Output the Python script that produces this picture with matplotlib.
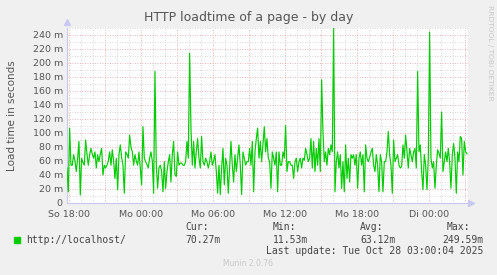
import matplotlib
matplotlib.use("Agg")
import matplotlib.pyplot as plt
import matplotlib.dates as mdates
from matplotlib.ticker import FixedLocator, MultipleLocator, FuncFormatter
import pandas as pd

# load time in milliseconds, one sample every 400 s
load_ms = [
    # So 17:48 .. Mo 02:28
    50, 16, 107, 54, 54, 69, 60, 45, 64, 88, 11.53, 64, 58, 54, 90, 70, 54, 69, 78, 70,
    64, 73, 50, 69, 59, 70, 78, 40, 54, 50, 54, 60, 73, 54, 76, 60, 35, 64, 19, 69,
    83, 65, 54, 14, 73, 70, 64, 97, 80, 73, 54, 69, 60, 54, 73, 50, 26, 109, 64, 59,
    55, 50, 64, 73, 60, 14, 188, 54, 21, 50, 54, 45, 16, 59, 21, 45, 59, 69,
    # Mo 02:35 .. Mo 10:48
    30, 69, 88, 40, 38, 73, 54, 57, 57, 54, 54, 59, 88, 64, 214, 107, 54, 88, 50, 73,
    92, 64, 50, 95, 59, 54, 64, 59, 50, 59, 73, 54, 60, 69, 45, 14, 54, 12, 50, 78,
    26, 64, 54, 14, 50, 88, 54, 30, 69, 45, 64, 83, 54, 12, 73, 64, 54, 59, 59, 78,
    54, 88, 16, 73, 92, 107, 64, 88, 59, 83, 109, 73, 92, 64, 59,
    # Mo 10:55 .. Mo 19:08
    21, 73, 64, 54, 73, 16, 73, 54, 54, 73, 64, 111, 45, 59, 59, 54, 54, 35, 59, 64,
    45, 59, 64, 50, 64, 61, 78, 69, 59, 64, 92, 50, 88, 45, 78, 54, 92, 45, 176, 102,
    59, 73, 54, 78, 69, 83, 73, 249.59, 16, 59, 73, 50, 69, 21, 59, 16, 83, 35, 64, 30,
    69, 64, 69, 54, 69, 21, 64, 73, 54, 69, 16, 83, 64, 59, 65,
    # Mo 19:15 .. Di 03:13
    73, 78, 54, 45, 69, 54, 16, 69, 59, 16, 59, 59, 73, 102, 69, 54, 14, 90, 59, 64,
    69, 54, 50, 52, 83, 64, 97, 73, 50, 78, 69, 59, 73, 78, 50, 188, 73, 83, 45, 19,
    69, 54, 19, 64, 244, 64, 50, 59, 21, 54, 76, 71, 64, 130, 45, 59, 73, 59, 78, 59,
    21, 69, 85, 64, 14, 73, 59, 95, 92, 40, 88, 73, 70.27,
]
sample_start = "2025-10-26 17:48:20"
sample_step = "400s"
view_start = pd.Timestamp("2025-10-26 17:48:30")
view_end = pd.Timestamp("2025-10-28 03:13:30")

y_ticks = list(range(0, 241, 20))
series_label = "http://localhost/"
cur_txt, min_txt, avg_txt, max_txt = "70.27m", "11.53m", "63.12m", "249.59m"
last_update = "Last update: Tue Oct 28 03:00:04 2025"
day_names = ["Mo", "Di", "Mi", "Do", "Fr", "Sa", "So"]

times = pd.date_range(sample_start, periods=len(load_ms), freq=sample_step)

W, H = 497, 275
fig = plt.figure(figsize=(W / 100, H / 100), dpi=100, facecolor="#f0f0f0")
ax = fig.add_axes([67 / W, 1 - 203 / H, 401 / W, 175 / H])
ax.set_facecolor("white")

ax.plot(times, load_ms, color="#00cc00", lw=0.85, zorder=3)

ax.set_xlim(view_start, view_end)
ax.set_ylim(0, 250)

# grid: red dotted major, grey dotted minor
ax.xaxis.set_major_locator(mdates.HourLocator(byhour=range(0, 24, 3)))
ax.xaxis.set_minor_locator(mdates.HourLocator())


def fmt_x(v, pos):
    d = mdates.num2date(v)
    if d.hour % 6:
        return ""
    return f"{day_names[d.weekday()]} {d:%H:%M}"


ax.xaxis.set_major_formatter(FuncFormatter(fmt_x))
ax.yaxis.set_major_locator(FixedLocator(y_ticks))
ax.yaxis.set_minor_locator(MultipleLocator(10))
ax.yaxis.set_major_formatter(FuncFormatter(lambda v, p: "0" if v == 0 else f"{v:.0f} m"))

ax.grid(which="major", color="#e89a9a", linestyle=(0, (1, 2)), lw=0.6, zorder=1)
ax.grid(which="minor", color="#cccccc", linestyle=(0, (1, 2)), lw=0.6, zorder=1)
ax.set_axisbelow(True)

ax.tick_params(which="both", length=0, labelsize=6.8, labelcolor="#555555", pad=3)
ax.tick_params(axis="x", pad=5)
for s in ["top", "right"]:
    ax.spines[s].set_visible(False)
for s in ["left", "bottom"]:
    ax.spines[s].set_color("#c8c8f0")
    ax.spines[s].set_linewidth(0.8)
ax.plot([0], [1.035], marker="^", ms=4, color="#c8c8f0", transform=ax.transAxes, clip_on=False)
ax.plot([1.008], [0], marker=">", ms=4, color="#c8c8f0", transform=ax.transAxes, clip_on=False)

ax.set_ylabel("Load time in seconds", fontsize=7.5, color="#555555", labelpad=11)

fig.text(248.5 / W, 1 - 18 / H, "HTTP loadtime of a page - by day", ha="center",
         va="center", fontsize=9, color="#555555")
fig.text(490 / W, 1 - 5 / H, "RRDTOOL / TOBI OETIKER", rotation=270, ha="center",
         va="top", fontsize=5.4, color="#c8c8c8")

mono = dict(family="DejaVu Sans Mono", fontsize=7, color="#444444", va="center")
fig.patches.append(plt.Rectangle((14 / W, 1 - 243 / H), 6 / W, 6 / H,
                                 transform=fig.transFigure, color="#00cc00"))
fig.text(26.5 / W, 1 - 240 / H, series_label, **mono)
fig.text(185.5 / W, 1 - 227.5 / H, "Cur:", **mono)
fig.text(185.5 / W, 1 - 240 / H, cur_txt, **mono)
fig.text(272.5 / W, 1 - 227.5 / H, "Min:", **mono)
fig.text(272.5 / W, 1 - 240 / H, min_txt, **mono)
fig.text(360 / W, 1 - 227.5 / H, "Avg:", **mono)
fig.text(360 / W, 1 - 240 / H, avg_txt, **mono)
fig.text(470 / W, 1 - 227.5 / H, "Max:", ha="right", **mono)
fig.text(483 / W, 1 - 240 / H, max_txt, ha="right", **mono)
fig.text(483 / W, 1 - 251.5 / H, last_update, ha="right", **mono)
fig.text(248 / W, 1 - 264 / H, "Munin 2.0.76", ha="center", va="center",
         fontsize=5.5, color="#c8c8c8")

fig.savefig("out.png", dpi=100, facecolor=fig.get_facecolor())
